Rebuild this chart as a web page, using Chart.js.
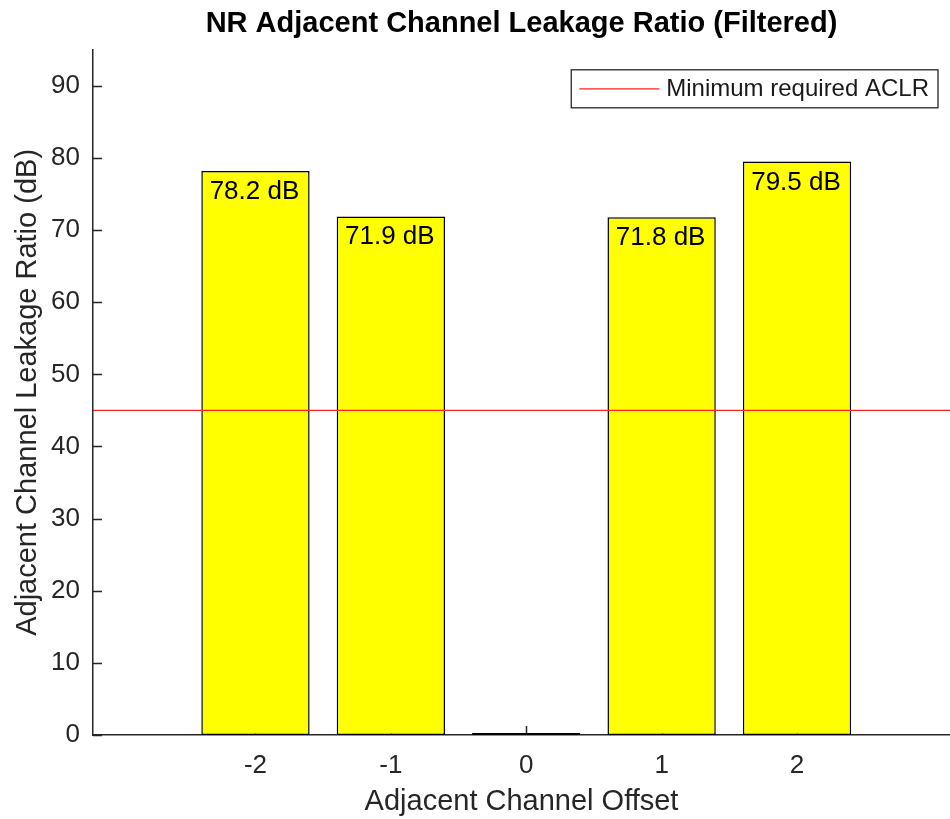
<!DOCTYPE html>
<html lang="en">

<head>
    <meta charset="UTF-8">
    <title>NR ACLR</title>
    <style>
        html, body { margin: 0; padding: 0; background: #fff; }
        #wrap { width: 950px; height: 819px; }
    </style>
</head>

<body>
    <div id="wrap">
        <canvas id="aclrChart" width="950" height="819"></canvas>
    </div>
    <script src="https://cdn.jsdelivr.net/npm/chart.js"></script>
    <script>
        // channel offsets and measured ACLR values (dB)
        const offsets = [-2, -1, 0, 1, 2];
        const aclr = [78.2, 71.9, 0, 71.8, 79.5];
        const aclrMin = 45;            // minimum required ACLR
        const xLimits = [-3.2, 3.13];
        const yTicks = [0, 10, 20, 30, 40, 50, 60, 70, 80, 90];
        const yMax = 95;

        const FONT = '"Liberation Sans", Arial, Helvetica, sans-serif';
        const AXIS = '#262626';

        // little inward ticks, matlab style
        const innerTicks = {
            id: 'innerTicks',
            beforeDatasetsDraw(chart) {
                const c = chart.ctx, a = chart.chartArea;
                const xs = chart.scales.x, ys = chart.scales.y;
                c.save();
                c.strokeStyle = AXIS;
                c.lineWidth = 1.5;
                c.beginPath();
                yTicks.forEach(v => {
                    const py = Math.round(ys.getPixelForValue(v)) + 0.5;
                    c.moveTo(a.left, py);
                    c.lineTo(a.left + 9, py);
                });
                offsets.forEach(v => {
                    const px = Math.round(xs.getPixelForValue(v)) + 0.5;
                    c.moveTo(px, a.bottom);
                    c.lineTo(px, a.bottom - 9);
                });
                c.stroke();
                c.restore();
            }
        };

        // "xx.x dB" text at top of each bar
        const barText = {
            id: 'barText',
            afterDatasetsDraw(chart) {
                const c = chart.ctx;
                const meta = chart.getDatasetMeta(1);
                c.save();
                c.font = '26px ' + FONT;
                c.fillStyle = '#000';
                c.textAlign = 'center';
                c.textBaseline = 'alphabetic';
                meta.data.forEach((bar, i) => {
                    if (!aclr[i]) return;
                    c.fillText(aclr[i].toFixed(1) + ' dB', bar.x - 1, bar.y + 28);
                });
                c.restore();
            }
        };

        // boxed legend in the upper right corner
        const boxLegend = {
            id: 'boxLegend',
            afterDraw(chart) {
                const c = chart.ctx, a = chart.chartArea;
                const ds = chart.data.datasets[0];
                c.save();
                c.font = '24px ' + FONT;
                const tw = c.measureText(ds.label).width;
                const w = 8 + 80 + 7 + tw + 9, h = 38;
                const right = a.right - 12, top = a.top + 20;
                const left = right - w;
                c.fillStyle = '#fff';
                c.fillRect(left, top, w, h);
                c.strokeStyle = AXIS;
                c.lineWidth = 1.3;
                c.strokeRect(left, top, w, h);
                c.strokeStyle = ds.borderColor;
                c.lineWidth = ds.borderWidth;
                c.beginPath();
                c.moveTo(left + 8, top + h / 2);
                c.lineTo(left + 88, top + h / 2);
                c.stroke();
                c.fillStyle = '#1a1a1a';
                c.textBaseline = 'middle';
                c.fillText(ds.label, left + 95, top + h / 2 + 1);
                c.restore();
            }
        };

        const ctx = document.getElementById('aclrChart').getContext('2d');
        const aclrChart = new Chart(ctx, {
            type: 'bar',
            data: {
                datasets: [{
                    type: 'line',
                    label: 'Minimum required ACLR',
                    data: xLimits.map(x => ({ x: x, y: aclrMin })),
                    borderColor: '#ff2020',
                    borderWidth: 1.3,
                    pointRadius: 0,
                    order: 0
                }, {
                    label: 'ACLR',
                    data: offsets.map((o, i) => ({ x: o, y: aclr[i] })),
                    backgroundColor: '#ffff00',
                    borderColor: '#000',
                    borderWidth: 1.5,
                    borderSkipped: false,
                    barPercentage: 0.8,
                    categoryPercentage: 1,
                    minBarLength: 2,
                    order: 1
                }]
            },
            options: {
                responsive: false,
                animation: false,
                layout: { padding: 0 },
                plugins: {
                    legend: { display: false },
                    tooltip: { enabled: false },
                    title: {
                        display: true,
                        fullSize: false,
                        text: 'NR Adjacent Channel Leakage Ratio (Filtered)',
                        color: '#000',
                        font: { family: FONT, size: 29, weight: 'bold' },
                        padding: { top: 7, bottom: 8 }
                    }
                },
                scales: {
                    x: {
                        type: 'linear',
                        min: xLimits[0],
                        max: xLimits[1],
                        offset: false,
                        grid: { display: false, offset: false, drawTicks: false },
                        border: { display: true, color: AXIS, width: 1.5 },
                        afterBuildTicks(scale) {
                            scale.ticks = offsets.map(v => ({ value: v }));
                        },
                        afterFit(scale) { scale.height = 84; },
                        ticks: {
                            color: AXIS,
                            padding: 15,
                            maxRotation: 0,
                            font: { family: FONT, size: 26 },
                            callback: v => String(v)
                        },
                        title: {
                            display: true,
                            text: 'Adjacent Channel Offset',
                            color: AXIS,
                            font: { family: FONT, size: 29 },
                            padding: { top: 4, bottom: 0 }
                        }
                    },
                    y: {
                        min: 0,
                        max: yMax,
                        grid: { display: false, drawTicks: false },
                        border: { display: true, color: AXIS, width: 1.5 },
                        afterBuildTicks(scale) {
                            scale.ticks = yTicks.map(v => ({ value: v }));
                        },
                        afterFit(scale) { scale.width = 93; },
                        ticks: {
                            color: AXIS,
                            padding: 13,
                            font: { family: FONT, size: 26 }
                        },
                        title: {
                            display: true,
                            text: 'Adjacent Channel Leakage Ratio (dB)',
                            color: AXIS,
                            font: { family: FONT, size: 29 },
                            padding: { top: 11, bottom: 0 }
                        }
                    }
                }
            },
            plugins: [innerTicks, barText, boxLegend]
        });
    </script>

</body>

</html>
